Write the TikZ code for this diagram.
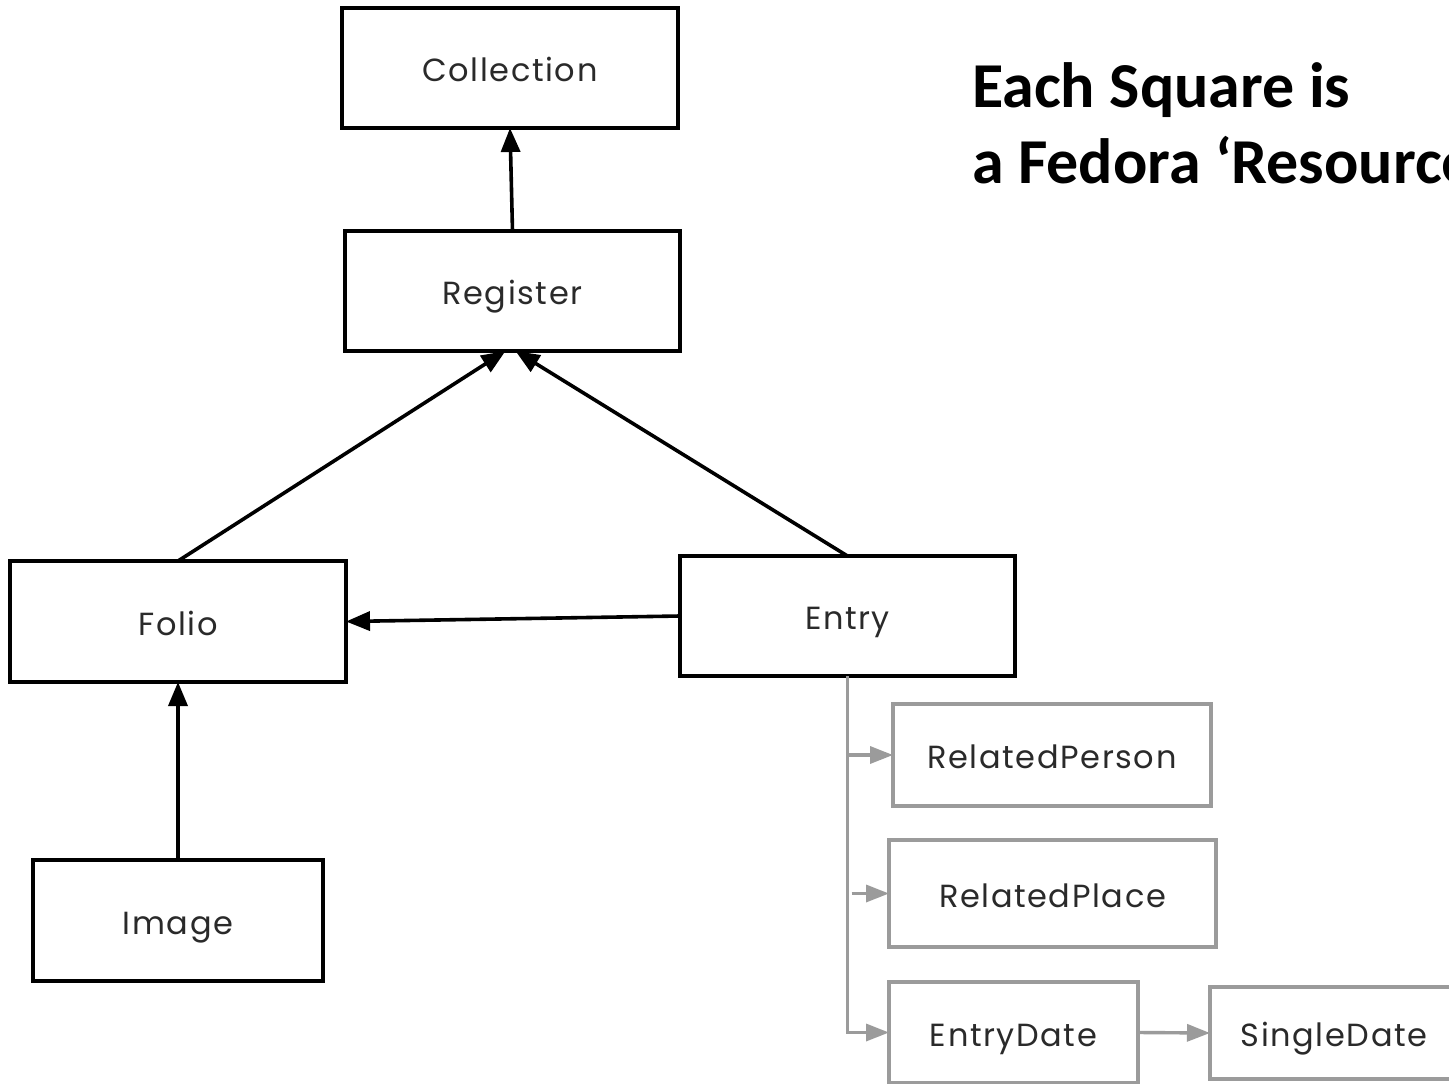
\documentclass[tikz,border=0pt]{standalone}
\usepackage{fontspec}
\usetikzlibrary{arrows.meta,calc}
\newfontfamily\boxfont[LetterSpace=5]{Poppins}
\newfontfamily\titlefont{Carlito}
\definecolor{edgegray}{HTML}{9B9B9B}
\definecolor{txtcol}{HTML}{2A2A2A}
\tikzset{
  box/.style={draw=black, line width=3.6pt, rectangle, inner sep=0pt, outer sep=0pt,
    text height=29pt, text depth=2pt,
    font=\boxfont\fontsize{32}{38}\selectfont, text=txtcol},
  graybox/.style={box, draw=edgegray, line width=3.4pt},
  blackarrow/.style={draw=black, line width=3.6pt, -{Triangle[length=24pt,width=19pt]}},
  grayarrow/.style={draw=edgegray, line width=3.4pt, -{Triangle[length=23pt,width=17pt]}},
  titletext/.style={anchor=base west, inner sep=0pt, font=\titlefont\bfseries\fontsize{64}{76}\selectfont},
}
\begin{document}
\begin{tikzpicture}[x=1pt,y=-1pt]
\useasboundingbox (0,0) rectangle (1449,1084);
\clip (0,0) rectangle (1449,1084);
\fill[white] (0,0) rectangle (1449,1084);

\node[box, minimum width=336pt, minimum height=120pt] (collection) at (510,68) {Collection};
\node[box, minimum width=335pt, minimum height=120pt] (register) at (512.5,291) {Register};
\node[box, minimum width=336pt, minimum height=121pt] (folio) at (178,621.5) {Folio};
\node[box, minimum width=335pt, minimum height=120pt] (entry) at (847.5,616) {Entry};
\node[box, minimum width=290pt, minimum height=121pt] (image) at (178,920.5) {Image};

\node[graybox, minimum width=318pt, minimum height=102pt] (relperson) at (1052,755) {RelatedPerson};
\node[graybox, minimum width=327pt, minimum height=107pt] (relplace) at (1052.5,893.5) {RelatedPlace};
\node[graybox, minimum width=249pt, minimum height=101pt] (entrydate) at (1013.5,1032.5) {EntryDate};
\node[graybox, minimum width=248pt, minimum height=92pt] (singledate) at (1334,1033) {SingleDate};

\node[titletext] (title1) at (972,107) {Each Square is};
\node[titletext] (title2) at (972,183) {a Fedora ‘Resource’};

% black connectors
\draw[blackarrow] (register.north) -- (collection.south);
\draw[blackarrow] (folio.north) -- ([xshift=-7pt]register.south);
\draw[blackarrow] (entry.north) -- ([xshift=3pt]register.south);
\draw[blackarrow] (entry.west) -- (folio.east);
\draw[blackarrow] (image.north) -- (folio.south);

% gray connectors
\coordinate (trunk) at (entry.south);
\coordinate (placestart) at ([xshift=4pt]trunk |- relplace.west);
\draw[grayarrow] (trunk) |- (entrydate.west);
\draw[grayarrow] (trunk |- relperson.west) -- (relperson.west);
\draw[grayarrow] (placestart) -- (relplace.west);
\draw[grayarrow] (entrydate.east) -- (singledate.west);
\end{tikzpicture}
\end{document}
